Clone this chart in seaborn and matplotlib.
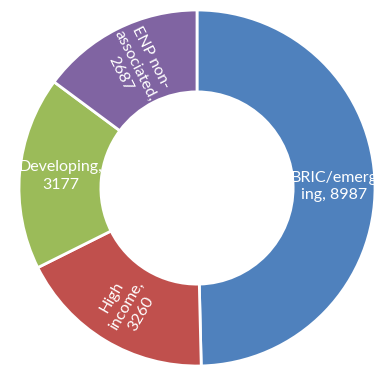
import matplotlib
matplotlib.use("Agg")
import matplotlib.pyplot as plt
import seaborn as sns
import numpy as np

categories = ["BRIC/emerging", "High income", "Developing", "ENP non-associated"]
values = [8987, 3260, 3177, 2687]
label_texts = ["BRIC/emerg\ning, 8987", "High\nincome,\n3260", "Developing,\n3177", "ENP non-\nassociated,\n2687"]
colors = ["#4F81BD", "#C0504D", "#9BBB59", "#8064A2"]
label_rot = [0, 60, 0, -63]

sns.set_style("white")
plt.rcParams['font.family'] = ['Lato', 'DejaVu Sans']

fig = plt.figure(figsize=(3.78, 3.76), dpi=100)
ax = fig.add_axes([0, 0, 1, 1])
R = 178.0
cx, cy = 197.0, 188.0
width = 0.46
wedges, _ = ax.pie(values, colors=colors, startangle=90, counterclock=False,
                   radius=1.0, wedgeprops=dict(width=width, edgecolor="white", linewidth=2))
total = sum(values)
start = 90.0
mid_r = 1.0 - width / 2
for v, t, rot in zip(values, label_texts, label_rot):
    span = v / total * 360
    mid = np.deg2rad(start - span / 2)
    start -= span
    ax.text(mid_r * np.cos(mid), mid_r * np.sin(mid), t, ha="center", va="center",
            multialignment="center", rotation=rot, color="white", fontsize=11.5,
            linespacing=1.3, rotation_mode="anchor")
ax.set_xlim(-cx / R, (378 - cx) / R)
ax.set_ylim(-(376 - cy) / R, cy / R)
ax.set_aspect("auto")
ax.axis("off")
fig.savefig("out.png", dpi=100)
